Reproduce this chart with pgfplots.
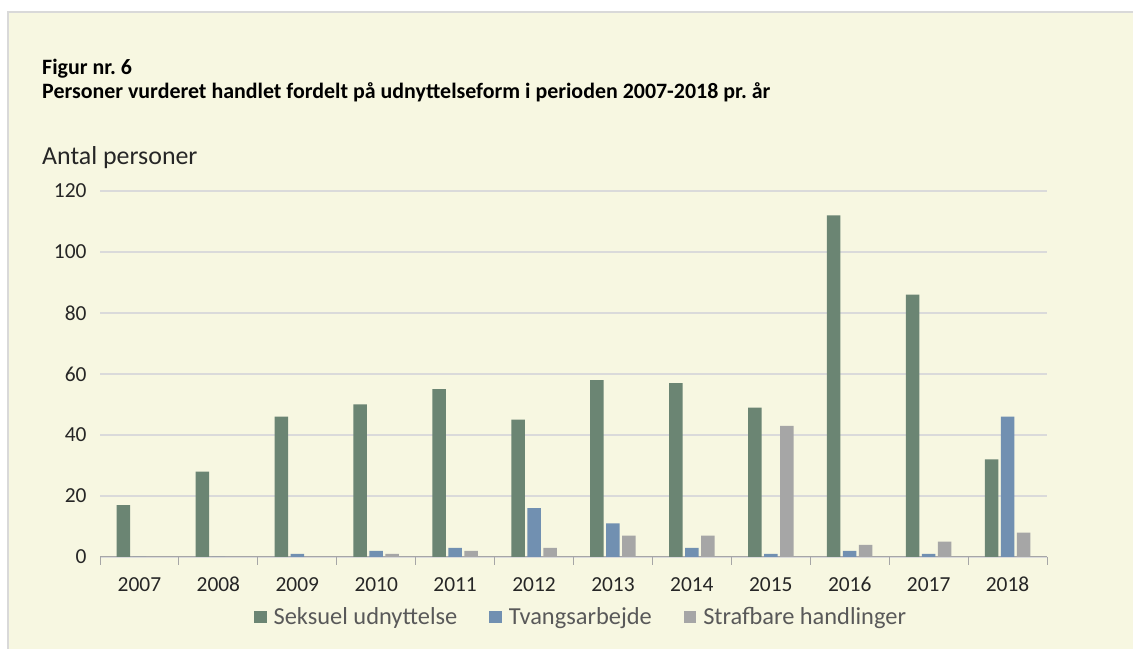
\documentclass[border=0pt]{standalone}
\usepackage{pgfplots}
\pgfplotsset{compat=1.18}
\usepackage{fontspec}
\setmainfont{Carlito}
\definecolor{bgc}{HTML}{F7F7E1}
\definecolor{bordc}{HTML}{D9D9D9}
\definecolor{cgreen}{HTML}{6B8573}
\definecolor{cblue}{HTML}{7190B1}
\definecolor{cgray}{HTML}{A6A6A6}
\definecolor{gridc}{HTML}{DADADA}
\definecolor{txt}{HTML}{262626}
\definecolor{legtxt}{HTML}{595959}
\frenchspacing
\begin{document}
\begin{tikzpicture}
\useasboundingbox (0bp,0bp) rectangle (1133bp,649bp);
\fill[white] (0bp,0bp) rectangle (1133bp,649bp);
\fill[bgc] (8bp,0bp) rectangle (1133bp,637bp);
\draw[bordc, line width=2bp] (8bp,0bp) -- (8bp,637bp) -- (1133bp,637bp);
\node[anchor=base west, inner sep=0pt, font=\bfseries\fontsize{22}{25}\selectfont] at (42bp,574bp) {Figur nr. 6};
\node[anchor=base west, inner sep=0pt, font=\bfseries\fontsize{22}{25}\selectfont] at (42bp,550bp) {Personer vurderet handlet fordelt på udnyttelseform i perioden 2007-2018 pr. år};
\node[anchor=base west, inner sep=0pt, text=txt, font=\fontsize{26}{30}\selectfont] at (42bp,484bp) {Antal personer};
\begin{axis}[
  at={(100bp,92bp)}, anchor=south west,
  scale only axis, width=947bp, height=366bp,
  ymin=0, ymax=120, xmin=-0.5, xmax=11.5,
  ybar, bar width=13.5bp,
  axis x line*=bottom, axis y line*=left,
  x axis line style={draw=cgray, line width=1bp},
  y axis line style={draw=none},
  /pgf/number format/assume math mode=true,
  ytick={0,20,...,120},
  ymajorgrids, grid style={gridc, line width=1.8bp},
  xtick={0,...,11},
  xticklabels={2007,2008,2009,2010,2011,2012,2013,2014,2015,2016,2017,2018},
  minor xtick={-0.5,0.5,...,11.5},
  major tick length=0pt, minor tick length=8bp,
  tick align=outside,
  minor tick style={draw=cgray, line width=1bp},
  xticklabel style={font=\fontsize{21.5}{24}\selectfont, text=txt, text height=14bp, text depth=0pt, inner sep=0pt, yshift=-20bp},
  yticklabel style={font=\fontsize{21.5}{24}\selectfont, text=txt, xshift=-10bp},
  legend style={at={(0.508,-0.164)}, anchor=center, draw=none, fill=none,
    legend columns=-1, font=\fontsize{24.5}{28}\selectfont, text=legtxt,
    /tikz/every odd column/.append style={column sep=5bp},
    /tikz/every even column/.append style={column sep=30bp}},
  legend image code/.code={\fill[#1] (0bp,-6bp) rectangle (12.5bp,6bp);},
]
\addplot[fill=cgreen, draw=none, bar shift=-16bp] coordinates {
(0,17) (1,28) (2,46) (3,50) (4,55) (5,45) (6,58) (7,57) (8,49) (9,112) (10,86) (11,32)};
\addplot[fill=cblue, draw=none, bar shift=0bp] coordinates {
(0,0) (1,0) (2,1) (3,2) (4,3) (5,16) (6,11) (7,3) (8,1) (9,2) (10,1) (11,46)};
\addplot[fill=cgray, draw=none, bar shift=16bp] coordinates {
(0,0) (1,0) (2,0) (3,1) (4,2) (5,3) (6,7) (7,7) (8,43) (9,4) (10,5) (11,8)};
\legend{Seksuel udnyttelse, Tvangsarbejde, Strafbare handlinger}
\end{axis}
\end{tikzpicture}
\end{document}
